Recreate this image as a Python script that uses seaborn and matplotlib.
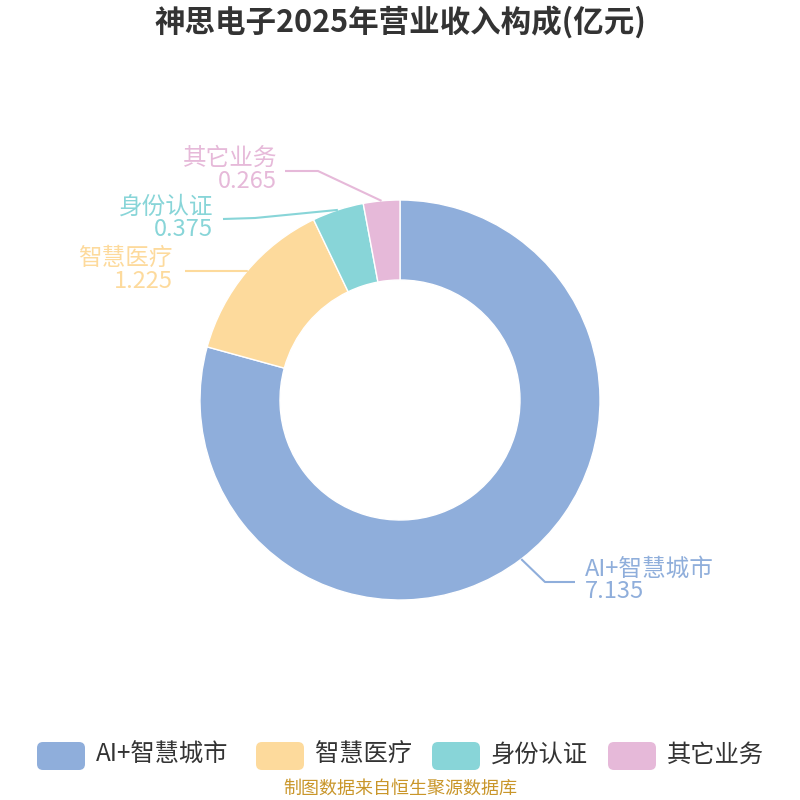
import matplotlib
matplotlib.use('Agg')
import matplotlib.pyplot as plt
import seaborn as sns
import numpy as np
from matplotlib.patches import FancyBboxPatch

sns.set_theme(style='white')
plt.rcParams['font.family'] = ['Noto Sans CJK SC', 'DejaVu Sans']

# 数据
names = ['AI+智慧城市', '智慧医疗', '身份认证', '其它业务']
values = [7.135, 1.225, 0.375, 0.265]
colors = ['#8FAEDB', '#FDDA9C', '#88D5D8', '#E6B9D9']

fig = plt.figure(figsize=(8, 8), dpi=100)
ax = fig.add_axes([0, 0, 1, 1])

wedges, _ = ax.pie(values, colors=colors, startangle=90, counterclock=False,
                   center=(400, 400), radius=200, frame=True,
                   wedgeprops=dict(width=80, edgecolor='white', linewidth=1))
ax.set_xlim(0, 800)
ax.set_ylim(0, 800)
ax.set_aspect('equal')
ax.axis('off')

# 引导线拐点与标签位置（像素坐标，y向下）
elbows = [(545, 582), (247, 271), (255, 218), (318, 171)]
ends = [(575, 582), (185, 271), (223, 219), (285, 171)]
label_pos = [(585, 569), (173, 258), (213, 207), (277, 158)]

for w, name, val, col, el, en, lp in zip(wedges, names, values, colors, elbows, ends, label_pos):
    mid = np.deg2rad((w.theta1 + w.theta2) / 2)
    sx = w.center[0] + w.r * np.cos(mid)
    sy = w.center[1] + w.r * np.sin(mid)
    ax.plot([sx, el[0], en[0]], [sy, 800 - el[1], 800 - en[1]], color=col, lw=1.5,
            solid_capstyle='butt')
    ha = 'left' if lp[0] > 400 else 'right'
    ax.text(lp[0], 800 - lp[1], name, color=col, fontsize=17, ha=ha, va='center')
    ax.text(lp[0], 800 - lp[1] - 23, f'{val:.3f}', color=col, fontsize=17, ha=ha, va='center')

fig.text(0.5, 1 - 22 / 800, '神思电子2025年营业收入构成(亿元)', ha='center', va='center',
         fontsize=22, fontweight='bold', color='#333333')

# 图例
leg_x = [37, 256, 432, 608]
for x, name, col in zip(leg_x, names, colors):
    box = FancyBboxPatch((x, 800 - 770), 48, 28, boxstyle='round,pad=0,rounding_size=6',
                         facecolor=col, edgecolor='none')
    ax.add_patch(box)
    ax.text(x + 59, 800 - 755, name, fontsize=17.5, color='#333333', ha='left', va='center')

fig.text(0.5, 1 - 789 / 800, '制图数据来自恒生聚源数据库', ha='center', va='center',
         fontsize=13, color='#C9962A')

fig.savefig('out.png', dpi=100)
